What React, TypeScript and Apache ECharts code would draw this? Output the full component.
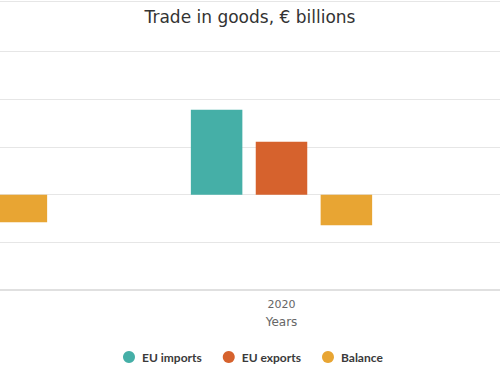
import React, { useEffect, useRef } from "react";
import * as echarts from "echarts";

const years = ["2019", "2020", "2021"];
const euImports: (number | null)[] = [null, 17.8, null];
const euExports: (number | null)[] = [null, 11.1, null];
const balance: (number | null)[] = [-5.8, -6.4, null];

const seriesNames = ["EU imports", "EU exports", "Balance"];
const colors = ["#45afa7", "#d6622d", "#e8a533"];

// the chart canvas is wider than the window: the visible part shows the 2020 group
const OFFSET = 206;
const CANVAS_W = 975;
const VISIBLE_YEAR = 1;

export default function App() {
  const ref = useRef<HTMLDivElement>(null);
  useEffect(() => {
    if (!ref.current) return;
    const chart = echarts.init(ref.current, undefined, { renderer: "svg" });
    chart.setOption({
      animation: false,
      color: colors,
      title: {
        text: "Trade in goods, € billions",
        left: OFFSET + 250,
        textAlign: "center",
        top: 8,
        padding: 0,
        textStyle: {
          fontFamily: "DejaVu Sans",
          fontSize: 17,
          fontWeight: "normal",
          color: "#333333",
        },
      },
      graphic: [
        {
          type: "line",
          shape: { x1: 0, y1: 1.5, x2: CANVAS_W, y2: 1.5 },
          style: { stroke: "#e6e6e6", lineWidth: 1 },
        },
      ],
      legend: {
        top: 346,
        left: OFFSET + 118,
        icon: "circle",
        itemWidth: 12,
        itemHeight: 12,
        itemGap: 21,
        data: seriesNames,
        textStyle: {
          fontFamily: "Lato",
          fontSize: 12,
          fontWeight: "bold",
          color: "#3a3a3a",
          padding: [0, 0, 0, 2],
        },
      },
      grid: {
        left: 0,
        right: 0,
        top: 51.7,
        height: 238.3,
        containLabel: false,
      },
      xAxis: {
        type: "category",
        data: years,
        name: "Years",
        nameLocation: "middle",
        nameGap: 26,
        nameTextStyle: { fontFamily: "DejaVu Sans", fontSize: 12, color: "#666666" },
        axisLine: { onZero: false, lineStyle: { color: "#e0e0e0", width: 2 } },
        axisTick: { show: false },
        axisLabel: {
          fontFamily: "DejaVu Sans",
          fontSize: 11,
          color: "#666666",
          margin: 9,
          interval: (i: number) => i === VISIBLE_YEAR,
        },
      },
      yAxis: {
        type: "value",
        min: -20,
        max: 30,
        interval: 10,
        axisLabel: { show: false },
        axisLine: { show: false },
        axisTick: { show: false },
        splitLine: { lineStyle: { color: "#e6e6e6", width: 1 } },
      },
      series: [
        { name: seriesNames[0], type: "bar", data: euImports, barWidth: 51.5, barGap: "26%" },
        { name: seriesNames[1], type: "bar", data: euExports, barWidth: 51.5, barGap: "26%" },
        { name: seriesNames[2], type: "bar", data: balance, barWidth: 51.5, barGap: "26%" },
      ],
    });
    return () => chart.dispose();
  }, []);
  return (
    <div style={{ position: "fixed", left: 0, top: 0, width: 500, height: 383, overflow: "hidden", background: "#fff" }}>
      <div
        ref={ref}
        style={{ position: "absolute", left: -OFFSET, top: 0, width: CANVAS_W, height: 383 }}
      />
    </div>
  );
}
